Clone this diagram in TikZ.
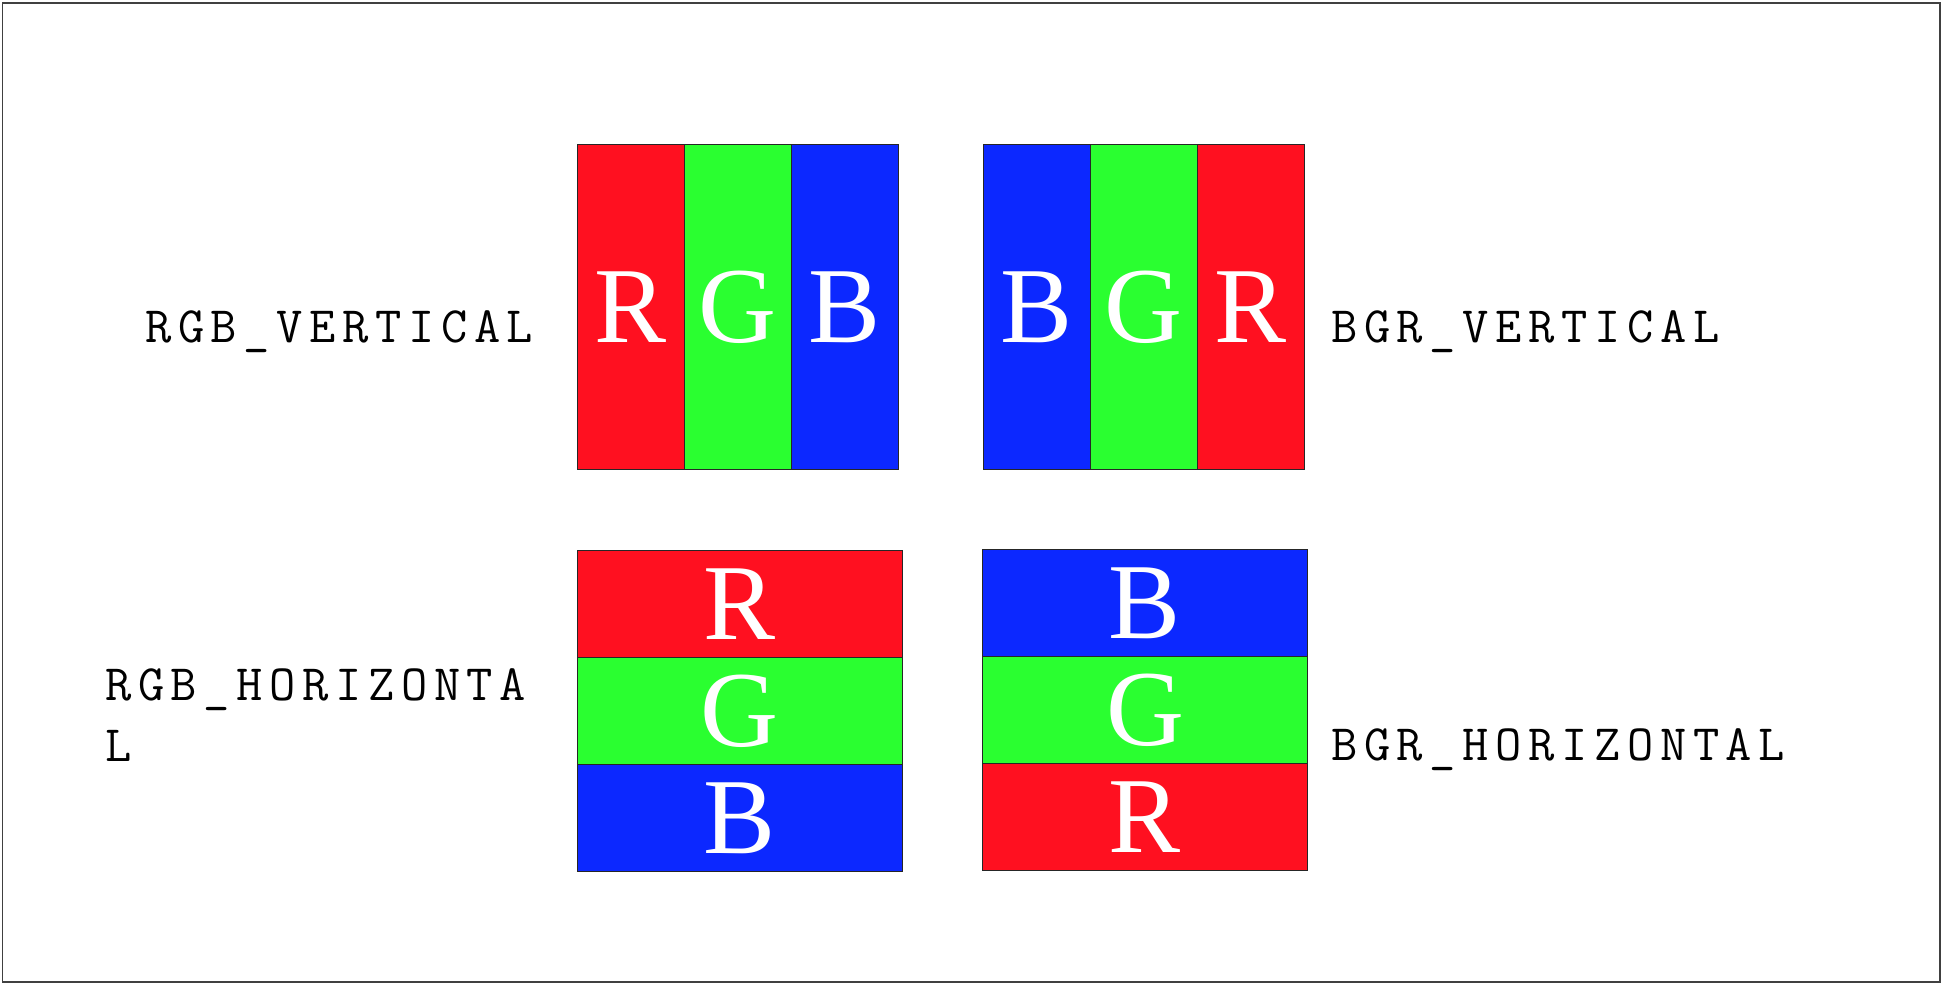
\documentclass[tikz,border=0pt]{standalone}
\usepackage{fontspec}
\setmainfont{Liberation Serif}
\newfontfamily\labelfont[LetterSpace=13]{Latin Modern Mono}
\definecolor{cred}{RGB}{255,16,32}
\definecolor{cgreen}{RGB}{42,255,48}
\definecolor{cblue}{RGB}{12,40,255}
\begin{document}
\begin{tikzpicture}[x=1pt,y=-1pt,
  cell/.style={draw=black!85, line width=1pt, inner sep=0pt, text=white,
    font=\fontsize{108}{108}\selectfont, text height=71.5pt, text depth=0pt},
  vcell/.style={cell, minimum width=107pt, minimum height=325pt},
  hcell/.style={cell, minimum width=325pt, minimum height=107pt},
  lbl/.style={anchor=base west, inner sep=0pt, font=\labelfont\fontsize{51}{61}\selectfont, align=left}]
\useasboundingbox (0,0) rectangle (1944,986);
\draw[black!75, line width=1.5pt] (2.5,3) rectangle (1940,982);
% top-left RGB vertical
\node[vcell, fill=cred]   (a1) at (630.5,306.5) {R};
\node[vcell, fill=cgreen] (a2) at (737.5,306.5) {G};
\node[vcell, fill=cblue]  (a3) at (845,306.5) {B};
% top-right BGR vertical
\node[vcell, fill=cblue]  (b1) at (1036.5,306.5) {B};
\node[vcell, fill=cgreen] (b2) at (1143.5,306.5) {G};
\node[vcell, fill=cred]   (b3) at (1251,306.5) {R};
% bottom-left RGB horizontal
\node[hcell, fill=cred]   (c1) at (739.5,603.5) {R};
\node[hcell, fill=cgreen] (c2) at (739.5,710.5) {G};
\node[hcell, fill=cblue]  (c3) at (739.5,817.5) {B};
% bottom-right BGR horizontal
\node[hcell, fill=cblue]  (d1) at (1145,602.5) {B};
\node[hcell, fill=cgreen] (d2) at (1145,709.5) {G};
\node[hcell, fill=cred]   (d3) at (1145,816.5) {R};
% labels
\node[lbl] (l1) at (145,342) {RGB\_VERTICAL};
\node[lbl] (l2) at (1331,342) {BGR\_VERTICAL};
\node[lbl] (l3) at (105,761) {RGB\_HORIZONTA\\L};
\node[lbl] (l4) at (1331,760) {BGR\_HORIZONTAL};
\end{tikzpicture}
\end{document}
